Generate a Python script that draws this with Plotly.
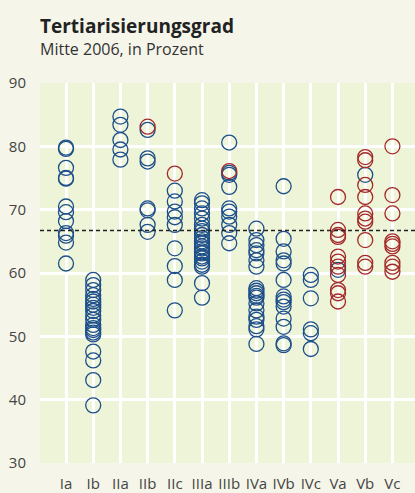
import plotly.graph_objects as go

categories = ["Ia", "Ib", "IIa", "IIb", "IIc", "IIIa", "IIIb", "IVa", "IVb", "IVc", "Va", "Vb", "Vc"]

blue_values = {
    "Ia": [79.8, 79.6, 76.6, 75.0, 74.9, 70.5, 69.6, 68.2, 66.3, 65.9, 64.8, 61.5],
    "Ib": [58.9, 58.1, 57.3, 56.5, 55.9, 55.5, 55.0, 54.5, 54.0, 53.3, 52.6, 51.8, 51.3, 51.0,
           50.6, 50.3, 47.6, 46.2, 43.1, 39.1],
    "IIa": [84.7, 83.4, 81.0, 79.5, 77.9],
    "IIb": [82.6, 78.1, 77.6, 70.2, 69.9, 67.6, 66.5],
    "IIc": [73.0, 71.3, 69.7, 68.8, 67.6, 63.9, 61.1, 58.9, 54.1],
    "IIIa": [71.5, 71.0, 70.2, 69.4, 68.6, 67.6, 67.0, 66.6, 66.0, 65.5, 65.0, 64.7, 64.2, 63.9,
             63.4, 63.1, 62.6, 62.3, 61.8, 61.3, 61.0, 58.4, 56.1],
    "IIIb": [80.6, 75.8, 75.5, 73.6, 70.2, 69.7, 68.9, 67.6, 66.3, 64.7],
    "IVa": [67.0, 65.2, 64.4, 63.6, 63.1, 62.0, 61.0, 57.6, 57.2, 56.8, 56.4, 56.1, 55.2, 54.1,
            53.1, 52.6, 51.6, 51.1, 48.8],
    "IVb": [73.7, 65.4, 63.4, 62.0, 61.5, 58.9, 56.3, 55.8, 55.4, 54.7, 52.8, 51.5, 48.9, 48.6],
    "IVc": [59.7, 58.9, 56.0, 51.1, 50.5, 48.0],
    "Va": [60.5],
    "Vb": [75.5],
    "Vc": [],
}

red_values = {
    "IIb": [83.1],
    "IIc": [75.7],
    "IIIb": [76.1],
    "Va": [72.0, 66.8, 66.0, 65.7, 62.6, 61.8, 61.0, 59.7, 57.3, 56.8, 55.5],
    "Vb": [78.3, 77.8, 73.9, 72.0, 69.4, 68.6, 68.1, 65.2, 61.6, 61.0],
    "Vc": [80.0, 72.3, 69.4, 65.0, 64.6, 64.2, 61.6, 61.0, 60.2],
}

mean_value = 66.7
y_ticks = [30, 40, 50, 60, 70, 80, 90]

BLUE = "#1d4f8a"
RED = "#a3292b"
PAGE_BG = "#f5f6e9"
PLOT_BG = "#eef4d7"


def flatten(d):
    xs, ys = [], []
    for c in categories:
        for v in d.get(c, []):
            xs.append(c)
            ys.append(v)
    return xs, ys


fig = go.Figure()
for vals, col in [(blue_values, BLUE), (red_values, RED)]:
    xs, ys = flatten(vals)
    fig.add_trace(go.Scatter(
        x=xs, y=ys, mode="markers",
        marker=dict(symbol="circle-open", size=15, color=col, line=dict(width=1.3, color=col)),
        showlegend=False, hoverinfo="skip",
    ))

fig.add_shape(type="line", xref="paper", yref="y", x0=0, x1=1, y0=mean_value, y1=mean_value,
              line=dict(color="#222222", width=1.5, dash="4px,3px"))

fig.update_layout(
    width=415, height=493,
    margin=dict(l=40, r=0, t=83, b=30),
    paper_bgcolor=PAGE_BG, plot_bgcolor=PLOT_BG,
    font=dict(family="Open Sans, Noto Sans, sans-serif", color="#333333"),
    annotations=[
        dict(text="<b>Tertiarisierungsgrad</b>", xref="paper", yref="paper", x=-0.005, y=1,
             xanchor="left", yanchor="bottom", yshift=42, showarrow=False,
             font=dict(size=19, color="#222222")),
        dict(text="Mitte 2006, in Prozent", xref="paper", yref="paper", x=-0.005, y=1,
             xanchor="left", yanchor="bottom", yshift=21, showarrow=False,
             font=dict(size=16, color="#333333")),
    ],
)
fig.update_xaxes(
    type="category", categoryorder="array", categoryarray=categories,
    range=[-0.956, 12.83], showgrid=True, gridcolor="white", gridwidth=2.5,
    zeroline=False, showline=False, automargin=False,
    ticks="outside", ticklen=7, tickcolor="rgba(0,0,0,0)",
    tickfont=dict(size=15, color="#444444"),
)
fig.update_yaxes(
    range=[30, 90], tickvals=y_ticks, showgrid=True, gridcolor="white", gridwidth=2.5,
    zeroline=False, showline=False, automargin=False,
    ticks="outside", ticklen=10, tickcolor="rgba(0,0,0,0)",
    tickfont=dict(size=15, color="#444444"),
)

fig.write_html("out.html", config={"displayModeBar": False},
               post_script="document.body.style.margin='0';document.body.style.overflow='hidden';")
